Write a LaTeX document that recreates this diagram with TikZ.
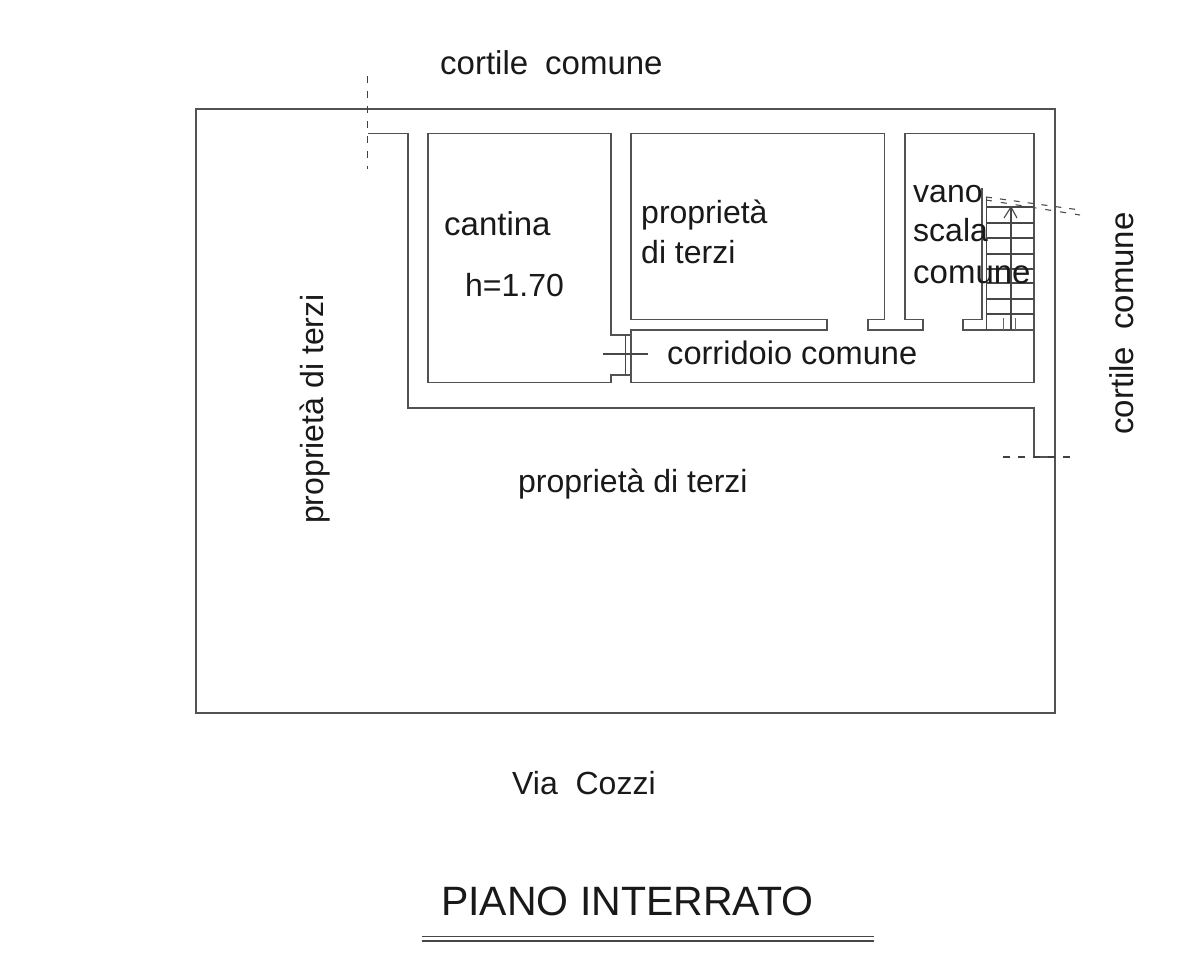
\documentclass[tikz,border=0pt]{standalone}
\usepackage{fontspec}
\setmainfont{Liberation Sans}
\newcommand{\fs}[1]{\fontsize{#1}{#1}\selectfont}
\tikzset{
  wall/.style={draw=black!68,line width=1.3pt,line join=miter},
  thin wall/.style={draw=black!72,line width=1.1pt},
  cutline/.style={draw=black!75,line width=1.6pt,dash pattern=on 7pt off 8pt},
  lbl/.style={inner sep=0pt,anchor=base west,text=black!90,font=\fs{32}},
  vlbl/.style={inner sep=0pt,anchor=base west,rotate=90,text=black!90,font=\fs{32}}
}
\begin{document}
\begin{tikzpicture}[x=1pt,y=-1pt]
\useasboundingbox[fill=white] (0,0) rectangle (1202,960);
% outer boundary
\draw[wall] (196,109) rectangle (1055,713);
% passage wall
\draw[wall] (367.5,133.5) -- (408,133.5) -- (408,408) -- (1034,408) -- (1034,457) -- (1055,457);
% cantina
\draw[wall] (631,335) -- (611,335) -- (611,133.5) -- (428,133.5) -- (428,382.5) -- (611,382.5) -- (611,375) -- (631,375);
% proprieta di terzi + stair room + corridor
\draw[wall] (631,382.5) -- (631,330) -- (827,330) -- (827,319.5) -- (631,319.5) -- (631,133.5) -- (884.5,133.5) -- (884.5,319.5) -- (868,319.5) -- (868,330) -- (923,330) -- (923,319.5) -- (905,319.5) -- (905,133.5) -- (1034,133.5) -- (1034,382.5) -- cycle;
% stair-side wall
\draw[wall] (982,188) -- (982,319.5) -- (963,319.5) -- (963,330) -- (1034,330);
% door
\draw[thin wall] (625.5,335) -- (625.5,375);
\draw[thin wall] (603,354) -- (648,354);
% stairs
\draw[thin wall] (986.5,197) -- (986.5,330);
\draw[thin wall] (1011,207) -- (1011,330);
\foreach \ty in {207,223,238,254,269,283,299,314}{
  \draw[thin wall] (986.5,\ty) -- (1034,\ty);
}
\draw[thin wall] (1004,218) -- (1011,207) -- (1017,218);
\foreach \tx in {1003,1015}{
  \draw[draw=black!60,line width=1pt] (\tx,318) -- (\tx,330);
}
% break lines
\draw[draw=black!70,line width=1.1pt,dash pattern=on 6pt off 8pt] (986,197) -- (1080,210);
\draw[draw=black!70,line width=1.1pt,dash pattern=on 6pt off 9pt] (986,200) -- (1080,215);
\draw[cutline] (367.5,76) -- (367.5,169);
\draw[cutline] (1003,457) -- (1072,457);
% title underline
\draw[thin wall] (421.5,936.5) -- (874,936.5);
\draw[thin wall] (421.5,941) -- (874,941);
% labels
\node[lbl,font=\fs{33}] (cortileTop) at (440,75) {cortile\hspace{17pt}comune};
\node[lbl,font=\fs{33}] (cantina) at (444,236) {cantina};
\node[lbl] (altezza) at (465,296) {h=1.70};
\node[lbl] (prop1) at (641,223) {proprietà};
\node[lbl] (prop2) at (641,263) {di terzi};
\node[lbl] (vano) at (913,203) {vano};
\node[lbl] (scala) at (913,242) {scala};
\node[lbl,font=\fs{33}] (comune) at (913,283) {comune};
\node[lbl,font=\fs{32.6}] (corridoio) at (667,364) {corridoio comune};
\node[lbl] (propSud) at (518,492) {proprietà di terzi};
\node[vlbl] (propOvest) at (323.5,524) {proprietà di terzi};
\node[vlbl,font=\fs{33}] (cortileEst) at (1133,435) {cortile\hspace{17pt}comune};
\node[lbl] (via) at (512,794) {Via\ \ Cozzi};
\node[lbl,font=\fs{41}] (titolo) at (441,915) {PIANO INTERRATO};
\end{tikzpicture}
\end{document}
